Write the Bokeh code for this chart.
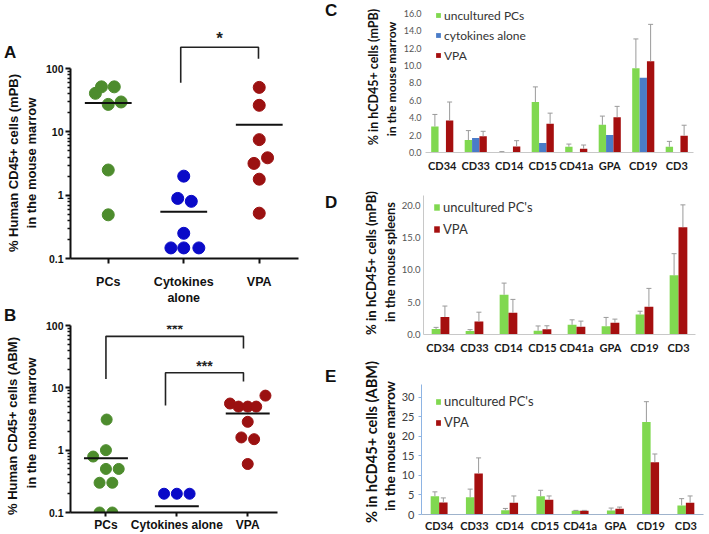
import numpy as np
from bokeh.plotting import figure
from bokeh.layouts import row, column
from bokeh.models import (FixedTicker, Label, Whisker, ColumnDataSource, Legend,
                          LegendItem, TeeHead, NumeralTickFormatter, Div)
from bokeh.embed import file_html
from bokeh.resources import INLINE

# ---------------- Panels A & B : dot plots (log scale) ----------------
groups_A = ["PCs", "Cytokines\nalone", "VPA"]
groups_B = ["PCs", "Cytokines alone", "VPA"]

A_pcs = [40.7, 51.5, 51.5, 27.2, 29.7, 2.5, 0.49]
A_pcs_jit = [-0.17, -0.09, 0.08, 0.0, 0.17, 0.0, 0.0]
A_cyt = [2.0, 0.89, 0.8, 0.25, 0.147, 0.147, 0.147]
A_cyt_jit = [0.0, -0.08, 0.1, 0.0, -0.17, 0.0, 0.2]
A_vpa = [50.5, 26.3, 7.55, 3.9, 3.18, 1.79, 0.52]
A_vpa_jit = [0.0, 0.0, 0.0, 0.11, -0.07, 0.0, 0.0]
A_means = [28.6, 0.55, 13.0]
A_brackets = [(0.96, 1.99, 218.0, 60.0, 143.0, "*")]

B_pcs = [3.1, 1.0, 0.79, 0.5, 0.5, 0.3, 0.3, 0.1, 0.1]
B_pcs_jit = [0.01, 0.0, -0.18, 0.0, 0.18, -0.09, 0.09, -0.09, 0.09]
B_cyt = [0.2, 0.2, 0.2]
B_cyt_jit = [-0.18, 0.0, 0.18]
B_vpa = [5.6, 5.0, 5.0, 5.0, 7.5, 2.85, 1.6, 1.5, 0.6]
B_vpa_jit = [-0.25, -0.13, 0.0, 0.12, 0.25, 0.0, -0.09, 0.09, 0.0]
B_means = [0.74, 0.126, 3.86]
B_brackets = [(0.0, 1.94, 67.0, 13.9, 42.6, "***"), (0.84, 1.94, 17.5, 5.2, 12.6, "***")]

DOT_COLORS = ["#4d8c2d", "#0a0ac8", "#9b1111"]

# ---------------- Panels C, D, E : bar charts ----------------
cats = ["CD34", "CD33", "CD14", "CD15", "CD41a", "GPA", "CD19", "CD3"]

C_unc = [2.99, 1.44, 0.05, 5.8, 0.66, 3.18, 9.7, 0.66]
C_unc_err = [1.39, 1.08, 0.05, 1.75, 0.31, 1.01, 3.37, 0.62]
C_cyt = [0.0, 1.67, 0.0, 1.09, 0.0, 2.02, 8.6, 0.0]
C_vpa = [3.69, 1.86, 0.7, 3.3, 0.43, 4.07, 10.51, 1.94]
C_vpa_err = [2.12, 0.58, 0.66, 1.23, 0.43, 1.24, 4.24, 1.2]

D_unc = [0.85, 0.55, 6.15, 0.57, 1.5, 1.29, 3.1, 9.15]
D_unc_err = [0.25, 0.2, 1.8, 0.75, 0.77, 1.35, 0.5, 3.35]
D_vpa = [2.7, 2.0, 3.36, 0.8, 1.19, 1.81, 4.29, 16.6]
D_vpa_err = [1.7, 1.45, 2.07, 0.55, 0.88, 0.57, 2.84, 3.45]

E_unc = [4.7, 4.4, 1.1, 4.67, 0.95, 1.0, 23.7, 2.33]
E_unc_err = [1.1, 2.1, 0.45, 1.53, 0.1, 0.65, 5.2, 1.73]
E_vpa = [3.05, 10.5, 3.0, 3.8, 0.95, 1.47, 13.4, 3.0]
E_vpa_err = [1.2, 4.0, 1.75, 0.95, 0.1, 0.43, 2.1, 1.75]

GREEN, BLUE, RED = "#80d850", "#4a7cc8", "#a50f0f"
ERR = "#9a9a9a"

ARIAL = "Liberation Sans"
EXCEL = "Lato"


def text_div(width, height, items):
    """HTML strip holding the panel letter and the two-line rotated y title."""
    spans = []
    for (x, y, text, size, font, rotated) in items:
        if rotated:
            tr = "translate(-50%,-50%) rotate(-90deg)"
        else:
            tr = "translate(0,-50%)"
        spans.append(
            f'<span style="position:absolute;left:{x}px;top:{y}px;transform:{tr};'
            f"white-space:nowrap;font-family:'{font}';font-weight:bold;"
            f'font-size:{size}px;line-height:1;color:#111111;">{text}</span>')
    html = (f'<div style="position:relative;width:{width}px;height:{height}px;'
            f'overflow:visible;">' + "".join(spans) + "</div>")
    return Div(text=html, width=width, height=height, margin=0,
               styles={"overflow": "visible"})


def dot_panel(width, height, xr, yr, mb, labels, label_size, data, means, brackets,
              star_size, dot_size):
    p = figure(width=width, height=height, y_axis_type="log", x_range=xr, y_range=yr,
               output_backend="svg", toolbar_location=None, title=None,
               min_border_left=mb[0], min_border_right=mb[1],
               min_border_top=mb[2], min_border_bottom=mb[3])
    p.outline_line_color = None
    p.grid.visible = False
    xa, ya = p.xaxis[0], p.yaxis[0]
    for ax in (xa, ya):
        ax.axis_label = None
        ax.axis_line_width = 2
        ax.axis_line_color = "#111111"
        ax.major_tick_line_width = 2
        ax.major_tick_line_color = "#111111"
        ax.major_tick_in = 0
        ax.major_tick_out = 5
        ax.major_label_text_font = ARIAL
        ax.major_label_text_font_style = "bold"
        ax.major_label_text_color = "#111111"
    xa.ticker = FixedTicker(ticks=[0, 1, 2])
    xa.major_label_overrides = {i: t for i, t in enumerate(labels)}
    xa.minor_tick_line_color = None
    xa.minor_tick_out = 0
    xa.major_label_text_font_size = label_size
    minors = [m * 10.0 ** e for e in range(-1, 2) for m in range(2, 10)]
    ya.ticker = FixedTicker(ticks=[0.1, 1, 10, 100], minor_ticks=minors)
    ya.formatter = NumeralTickFormatter(format="0.[0]")
    ya.bounds = (0.1, 100)
    ya.minor_tick_in = 0
    ya.minor_tick_out = 3
    ya.minor_tick_line_width = 1.5
    ya.minor_tick_line_color = "#111111"
    ya.major_label_text_font_size = "10.5px"
    ya.major_label_standoff = 2

    for i, (vals, jit) in enumerate(data):
        p.scatter(x=[i + j for j in jit], y=vals, size=dot_size,
                  fill_color=DOT_COLORS[i], line_color=DOT_COLORS[i])
    p.segment(x0=[i - 0.31 for i in range(3)], x1=[i + 0.31 for i in range(3)],
              y0=means, y1=means, line_width=2, line_color="#111111")
    for (x0, x1, top, y0, y1, txt) in brackets:
        p.line(x=[x0, x0, x1, x1], y=[y0, top, top, y1], line_width=1.6,
               line_color="#222222")
        p.add_layout(Label(x=(x0 + x1) / 2, y=top, text=txt, text_align="center",
                           text_baseline="bottom", text_font=ARIAL,
                           text_font_size=star_size, text_font_style="bold",
                           y_offset=-1, text_color="#222222"))
    return p


# ---- left column ----
pA = dot_panel(273, 308, (-0.5, 2.52), (0.1, 400), (25, 17, 30, 48), groups_A, "12.5px",
               [(A_pcs, A_pcs_jit), (A_cyt, A_cyt_jit), (A_vpa, A_vpa_jit)],
               A_means, A_brackets, "17px", 12)
pA.xaxis[0].major_label_standoff = 11
dA = text_div(42, 308, [
    (4, 52, "A", 17, ARIAL, False),
    (12.5, 163, "% Human CD45+ cells (mPB)", 13, ARIAL, True),
    (31, 163, "in the mouse marrow", 13, ARIAL, True)])

pB = dot_panel(273, 226, (-0.5, 2.42), (0.1, 100), (25, 38, 17, 20), groups_B, "12px",
               [(B_pcs, B_pcs_jit), (B_cyt, B_cyt_jit), (B_vpa, B_vpa_jit)],
               B_means, B_brackets, "14px", 11)
pB.xaxis[0].major_tick_out = 4
pB.xaxis[0].major_label_standoff = 1
dB = text_div(42, 226, [
    (4, 7, "B", 17, ARIAL, False),
    (12, 118, "% Human CD45+ cells (ABM)", 13, ARIAL, True),
    (31, 115, "in the mouse marrow", 13, ARIAL, True)])


def bar_panel(width, height, yr, ybounds, yticks, yfmt, mb, series, bar_w, ycol, xcol,
              ytick_size, xlab_size, legend_loc, legend_font, legend_spacing, glyph,
              ystand, xstand):
    p = figure(width=width, height=height, x_range=(-0.5, 7.5), y_range=yr,
               output_backend="svg", toolbar_location=None, title=None,
               min_border_left=mb[0], min_border_right=mb[1],
               min_border_top=mb[2], min_border_bottom=mb[3])
    p.outline_line_color = None
    p.grid.visible = False
    xa, ya = p.xaxis[0], p.yaxis[0]
    xa.axis_label = None
    ya.axis_label = None
    xa.ticker = FixedTicker(ticks=list(range(len(cats))))
    xa.major_label_overrides = {i: c for i, c in enumerate(cats)}
    xa.major_tick_line_color = None
    xa.minor_tick_line_color = None
    xa.major_tick_out = 0
    xa.major_tick_in = 0
    xa.minor_tick_out = 0
    xa.minor_tick_in = 0
    xa.axis_line_color = xcol
    xa.major_label_text_font = EXCEL
    xa.major_label_text_font_style = "bold"
    xa.major_label_text_font_size = xlab_size
    xa.major_label_text_color = "#1a1a1a"
    xa.major_label_standoff = xstand
    ya.ticker = FixedTicker(ticks=yticks)
    ya.formatter = NumeralTickFormatter(format=yfmt)
    ya.bounds = ybounds
    ya.minor_tick_line_color = None
    ya.minor_tick_out = 0
    ya.minor_tick_in = 0
    ya.major_tick_in = 0
    ya.major_label_text_font = EXCEL
    ya.major_label_text_font_size = ytick_size
    ya.major_label_text_color = "#555555"
    ya.major_label_standoff = ystand
    if ycol is None:
        ya.axis_line_color = None
        ya.major_tick_line_color = None
        ya.major_tick_out = 0
    else:
        ya.axis_line_color = ycol
        ya.major_tick_line_color = ycol
        ya.major_tick_out = 3 if ycol != "#c8c8c8" else 0

    n = len(series)
    items = []
    xs = np.arange(len(cats))
    for k, (name, vals, errs, col) in enumerate(series):
        off = (k - (n - 1) / 2) * bar_w
        r = p.vbar(x=xs + off, top=vals, width=bar_w, fill_color=col, line_color=None)
        items.append(LegendItem(label=name, renderers=[r]))
        if errs is not None:
            src = ColumnDataSource(dict(x=xs + off, lo=np.array(vals),
                                        hi=np.array(vals) + np.array(errs)))
            p.add_layout(Whisker(source=src, base="x", lower="lo", upper="hi",
                                 line_color=ERR, line_width=1,
                                 upper_head=TeeHead(size=5, line_color=ERR, line_width=1),
                                 lower_head=None, level="overlay"))
    leg = Legend(items=items, location=legend_loc, orientation="vertical",
                 glyph_width=glyph[0], glyph_height=glyph[1], label_height=16,
                 spacing=legend_spacing, padding=0, margin=0, label_standoff=3,
                 label_text_font=EXCEL, label_text_font_size=legend_font,
                 label_text_color="#333333", background_fill_alpha=0,
                 border_line_color=None)
    p.add_layout(leg)
    return p


# ---- right column ----
pC = bar_panel(309, 178, (0, 16.92), (0, 16.92), [0, 2, 4, 6, 8, 10, 12, 14, 16], "0.0",
               (22, 16, 5, 26),
               [("uncultured PCs", C_unc, C_unc_err, GREEN),
                ("cytokines alone", C_cyt, None, BLUE),
                ("VPA", C_vpa, C_vpa_err, RED)],
               0.22, None, "#c8c8c8", "9px", "11px", (10, 89), "12px", 4, (6, 6), 4, 6)
dC = text_div(85, 178, [
    (10, 10, "C", 17, ARIAL, False),
    (59, 77, "% in hCD45+ cells (mPB)", 12.5, EXCEL, True),
    (77, 79, "in the mouse marrow", 12.2, EXCEL, True)])

pD = bar_panel(311, 178, (0, 21.5), (0, 21.5), [0, 5, 10, 15, 20], "0.0", (22, 14, 17, 22),
               [("uncultured PC's", D_unc, D_unc_err, GREEN),
                ("VPA", D_vpa, D_vpa_err, RED)],
               0.26, "#c8c8c8", "#c8c8c8", "9.5px", "11px", (10, 97), "13px", 6, (7, 8), 3, 6)
dD = text_div(83, 178, [
    (10, 24, "D", 17, ARIAL, False),
    (57, 85, "% in hCD45+ cells (mPB)", 13.2, EXCEL, True),
    (75, 84, "in the mouse spleens", 12.9, EXCEL, True)])

pE = bar_panel(311, 178, (0, 33.3), (0, 33.3), [0, 5, 10, 15, 20, 25, 30], "0",
               (20, 6, 28, 20),
               [("uncultured PC's", E_unc, E_unc_err, GREEN),
                ("VPA", E_vpa, E_vpa_err, RED)],
               0.24, "#8eb4e3", "#9fb3cc", "11px", "11px", (14, 84), "13px", 5, (6, 7), 4, 4)
pE.yaxis[0].major_label_text_color = "#404040"
dE = text_div(83, 178, [
    (10, 20, "E", 17, ARIAL, False),
    (57, 86, "% in hCD45+ cells (ABM)", 14.6, EXCEL, True),
    (75, 90, "in the mouse marrow", 13.8, EXCEL, True)])

layout = row(column(row(dA, pA), row(dB, pB)),
             column(row(dC, pC), row(dD, pD), row(dE, pE)))

with open("out.html", "w") as f:
    f.write(file_html(layout, INLINE, "Human CD45+ engraftment"))
